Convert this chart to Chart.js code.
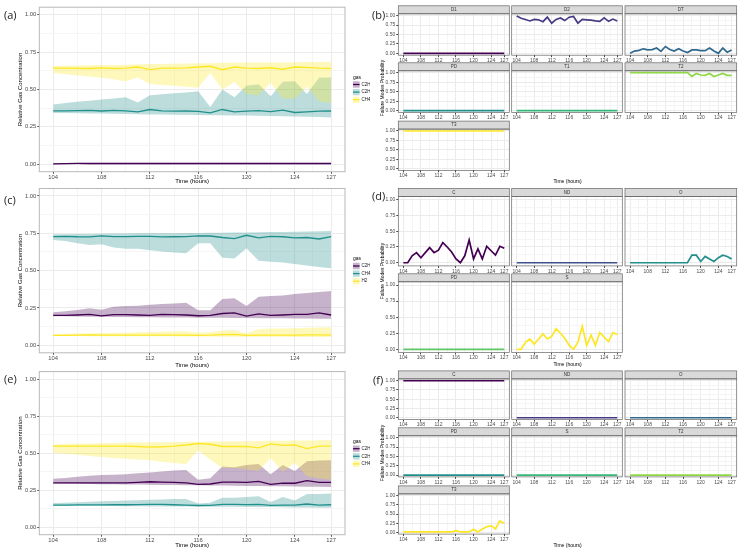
<!DOCTYPE html>
<html>
<head>
<meta charset="utf-8">
<script src="https://cdn.jsdelivr.net/npm/chart.js@4.4.1/dist/chart.umd.min.js"></script>
<style>
  html, body { margin: 0; padding: 0; background: #fff; }
  body { width: 741px; height: 551px; position: relative; overflow: hidden; }
  canvas { position: absolute; }
  .lab { position: absolute; font-family: "Open Sans", sans-serif; font-size: 11px; color: #222; line-height: 12px; }
  .ttl { position: absolute; font-family: "Liberation Sans", Arial, sans-serif; font-size: 5px; color: #000; white-space: nowrap; line-height: 6px; }
</style>
</head>
<body>
<script>
// ---- data ----
const hours = [104,105,106,107,108,109,110,111,112,113,114,115,
               116,117,118,119,120,121,122,123,124,125,126,127];
const xMajor = [104,108,112,116,120,124,127];
const xMinor = [106,110,114,118,122,125.5];
const yMajor = [0,0.25,0.5,0.75,1];
const yMinor = [0.125,0.375,0.625,0.875];

// (a) gases: C2H2, C2H4, CH4
const aC2H2   = [0.002,0.004,0.005,0.005,0.005,0.005,0.005,0.005,0.005,0.005,0.005,0.005,
                 0.005,0.005,0.005,0.005,0.005,0.005,0.005,0.005,0.005,0.005,0.005,0.005];
const aC2H2Lo = [0.000,0.000,0.000,0.000,0.000,0.000,0.000,0.000,0.000,0.000,0.000,0.000,
                 0.000,0.000,0.000,0.000,0.000,0.000,0.000,0.000,0.000,0.000,0.000,0.000];
const aC2H2Hi = [0.006,0.008,0.009,0.009,0.009,0.009,0.009,0.009,0.009,0.009,0.009,0.009,
                 0.009,0.009,0.009,0.009,0.009,0.009,0.009,0.009,0.009,0.009,0.009,0.009];
const aC2H4   = [0.357,0.357,0.358,0.360,0.356,0.360,0.357,0.350,0.366,0.357,0.355,0.356,
                 0.353,0.343,0.366,0.350,0.355,0.358,0.352,0.362,0.346,0.350,0.355,0.356];
const aC2H4Lo = [0.343,0.342,0.341,0.340,0.339,0.338,0.336,0.335,0.333,0.332,0.331,0.330,
                 0.329,0.328,0.327,0.326,0.325,0.324,0.322,0.321,0.319,0.317,0.315,0.313];
const aC2H4Hi = [0.400,0.410,0.418,0.425,0.432,0.440,0.448,0.412,0.462,0.468,0.474,0.480,
                 0.488,0.382,0.500,0.448,0.525,0.535,0.455,0.552,0.555,0.470,0.578,0.580];
const aCH4    = [0.643,0.643,0.641,0.640,0.644,0.640,0.642,0.650,0.632,0.643,0.643,0.644,
                 0.650,0.655,0.632,0.650,0.643,0.640,0.645,0.635,0.650,0.648,0.643,0.640];
const aCH4Lo  = [0.610,0.602,0.594,0.586,0.578,0.568,0.555,0.580,0.536,0.530,0.525,0.518,
                 0.512,0.610,0.500,0.550,0.470,0.460,0.545,0.440,0.440,0.520,0.420,0.410];
const aCH4Hi  = [0.656,0.658,0.660,0.661,0.663,0.664,0.666,0.668,0.670,0.671,0.672,0.673,
                 0.675,0.676,0.678,0.679,0.680,0.680,0.681,0.681,0.682,0.683,0.684,0.685];

// (c) gases: C2H6, CH4, H2
const cC2H6   = [0.200,0.200,0.203,0.207,0.197,0.205,0.205,0.203,0.200,0.207,0.205,0.203,
                 0.198,0.200,0.213,0.217,0.195,0.210,0.200,0.203,0.207,0.207,0.217,0.203];
const cC2H6Lo = [0.195,0.194,0.193,0.192,0.191,0.190,0.189,0.188,0.188,0.187,0.186,0.186,
                 0.185,0.185,0.184,0.183,0.183,0.182,0.181,0.181,0.180,0.179,0.178,0.178];
const cC2H6Hi = [0.221,0.228,0.236,0.248,0.238,0.258,0.263,0.265,0.272,0.276,0.280,0.285,
                 0.235,0.235,0.310,0.315,0.263,0.326,0.330,0.333,0.344,0.350,0.357,0.364];
const cCH4    = [0.728,0.730,0.727,0.726,0.733,0.728,0.728,0.730,0.730,0.726,0.727,0.728,
                 0.733,0.732,0.722,0.714,0.737,0.720,0.730,0.727,0.720,0.722,0.712,0.728];
const cCH4Lo  = [0.705,0.698,0.683,0.672,0.677,0.655,0.646,0.646,0.637,0.628,0.622,0.616,
                 0.683,0.683,0.587,0.582,0.650,0.567,0.560,0.555,0.545,0.535,0.525,0.516];
const cCH4Hi  = [0.743,0.744,0.745,0.746,0.747,0.748,0.749,0.750,0.750,0.751,0.751,0.752,
                 0.752,0.753,0.754,0.755,0.756,0.757,0.758,0.759,0.760,0.762,0.764,0.765];
const cH2     = [0.067,0.067,0.068,0.070,0.068,0.068,0.068,0.068,0.068,0.069,0.069,0.069,
                 0.067,0.068,0.072,0.073,0.067,0.068,0.068,0.069,0.069,0.070,0.070,0.068];
const cH2Lo   = [0.062,0.062,0.062,0.061,0.061,0.061,0.061,0.060,0.060,0.060,0.060,0.059,
                 0.059,0.059,0.058,0.058,0.058,0.057,0.057,0.057,0.056,0.056,0.055,0.055];
const cH2Hi   = [0.075,0.077,0.079,0.081,0.082,0.083,0.085,0.087,0.089,0.091,0.093,0.095,
                 0.085,0.087,0.100,0.103,0.080,0.110,0.112,0.113,0.115,0.117,0.119,0.121];

// (e) gases: C2H4, C2H6, CH4
const eC2H4   = [0.300,0.300,0.300,0.300,0.300,0.300,0.300,0.303,0.307,0.305,0.303,0.300,
                 0.290,0.292,0.305,0.305,0.303,0.310,0.290,0.298,0.297,0.315,0.303,0.303];
const eC2H4Lo = [0.295,0.294,0.293,0.292,0.291,0.290,0.289,0.288,0.287,0.286,0.285,0.284,
                 0.283,0.282,0.281,0.280,0.279,0.278,0.277,0.276,0.275,0.274,0.273,0.272];
const eC2H4Hi = [0.328,0.332,0.340,0.348,0.352,0.355,0.358,0.365,0.370,0.376,0.383,0.386,
                 0.320,0.330,0.410,0.405,0.420,0.427,0.357,0.420,0.380,0.445,0.450,0.452];
const eC2H6   = [0.150,0.150,0.151,0.151,0.151,0.152,0.152,0.153,0.155,0.154,0.152,0.150,
                 0.147,0.148,0.155,0.155,0.153,0.155,0.148,0.150,0.150,0.157,0.150,0.152];
const eC2H6Lo = [0.145,0.145,0.144,0.144,0.143,0.143,0.142,0.142,0.141,0.141,0.140,0.140,
                 0.139,0.139,0.138,0.138,0.137,0.137,0.136,0.135,0.134,0.133,0.132,0.131];
const eC2H6Hi = [0.164,0.166,0.169,0.172,0.175,0.178,0.180,0.183,0.186,0.188,0.191,0.190,
                 0.160,0.165,0.200,0.200,0.205,0.210,0.170,0.205,0.180,0.225,0.225,0.228];
const eCH4    = [0.548,0.548,0.548,0.548,0.548,0.548,0.547,0.545,0.540,0.543,0.548,0.555,
                 0.565,0.560,0.545,0.545,0.545,0.535,0.562,0.553,0.555,0.530,0.547,0.547];
const eCH4Lo  = [0.503,0.496,0.489,0.481,0.474,0.468,0.462,0.457,0.452,0.442,0.433,0.427,
                 0.520,0.455,0.400,0.400,0.390,0.382,0.465,0.375,0.436,0.345,0.330,0.320];
const eCH4Hi  = [0.558,0.561,0.563,0.565,0.567,0.569,0.571,0.572,0.573,0.574,0.575,0.576,
                 0.577,0.578,0.579,0.580,0.581,0.582,0.583,0.584,0.585,0.586,0.587,0.588];

// (b) failure modes, Duval triangle 1
const bD1 = [0,0,0,0,0,0,0,0,0,0,0,0, 0,0,0,0,0,0,0,0,0,0,0,0];
const bD2 = [0.99,0.93,0.90,0.86,0.90,0.89,0.84,0.96,0.80,0.90,0.94,0.87,
             0.96,0.98,0.80,0.90,0.89,0.88,0.86,0.85,0.94,0.85,0.91,0.86];
const bDT = [0.00,0.06,0.08,0.12,0.09,0.10,0.14,0.05,0.18,0.10,0.06,0.12,
             0.06,0.02,0.09,0.09,0.07,0.07,0.14,0.06,0.00,0.14,0.03,0.09];
const bPD = [0,0,0,0,0,0,0,0,0,0,0,0, 0,0,0,0,0,0,0,0,0,0,0,0];
const bT1 = [0,0,0,0,0,0,0,0,0,0,0,0, 0,0,0,0,0,0,0,0,0,0,0,0];
const bT2 = [1,1,1,1,1,1,1,1,1,1,1,1,
             1,1,0.90,0.98,0.94,0.93,0.98,0.90,0.94,0.98,0.93,0.93];
const bT3 = [1,1,1,1,1,1,1,1,1,1,1,1, 1,1,1,1,1,1,1,1,1,1,1,1];

// (d) failure modes, Duval triangle 4
const dC  = [0.00,0.00,0.11,0.16,0.08,0.16,0.24,0.16,0.20,0.32,0.25,0.17,
             0.06,0.00,0.11,0.36,0.06,0.22,0.06,0.26,0.19,0.12,0.26,0.23];
const dND = [0,0,0,0,0,0,0,0,0,0,0,0, 0,0,0,0,0,0,0,0,0,0,0,0];
const dO  = [0,0,0,0,0,0,0,0,0,0,0,0,
             0,0,0.12,0.12,0.02,0.10,0.06,0.02,0.08,0.12,0.10,0.06];
const dPD = [0,0,0,0,0,0,0,0,0,0,0,0, 0,0,0,0,0,0,0,0,0,0,0,0];
const dS  = [0.00,0.00,0.11,0.16,0.08,0.16,0.24,0.16,0.20,0.32,0.25,0.17,
             0.06,0.00,0.11,0.36,0.06,0.22,0.06,0.26,0.19,0.12,0.26,0.23];

// (f) failure modes, Duval triangle 5
const fC  = [1,1,1,1,1,1,1,1,1,1,1,1, 1,1,1,1,1,1,1,1,1,1,1,1];
const fND = [0,0,0,0,0,0,0,0,0,0,0,0, 0,0,0,0,0,0,0,0,0,0,0,0];
const fO  = [0,0,0,0,0,0,0,0,0,0,0,0, 0,0,0,0,0,0,0,0,0,0,0,0];
const fPD = [0,0,0,0,0,0,0,0,0,0,0,0, 0,0,0,0,0,0,0,0,0,0,0,0];
const fS  = [0,0,0,0,0,0,0,0,0,0,0,0, 0,0,0,0,0,0,0,0,0,0,0,0];
const fT2 = [0,0,0,0,0,0,0,0,0,0,0,0, 0,0,0,0,0,0,0,0,0,0,0,0];
const fT3 = [0.01,0.01,0.01,0.01,0.01,0.01,0.01,0.01,0.01,0.01,0.01,0.01,
             0.045,0.01,0.01,0.01,0.08,0.01,0.09,0.15,0.18,0.09,0.31,0.25];

// ---- styling ----
const FONT = '"Liberation Sans", Arial, sans-serif';
const V3 = ['#440154', '#21908C', '#FDE725'];
const V5 = ['#440154', '#3B528B', '#21908C', '#5DC863', '#FDE725'];
const V7 = ['#440154', '#443A83', '#31688E', '#21908C', '#35B779', '#8FD744', '#FDE725'];
const GRID_MAJ = '#ebebeb';
const GRID_MIN = '#f5f5f5';

function rgba(hex, a) {
  const n = parseInt(hex.slice(1), 16);
  return `rgba(${n >> 16},${(n >> 8) & 255},${n & 255},${a})`;
}
function pts(arr) { return hours.map((h, i) => ({ x: h, y: arr[i] })); }

function makeCanvas(x, y, w, h) {
  const c = document.createElement('canvas');
  c.width = w; c.height = h;
  c.style.left = x + 'px'; c.style.top = y + 'px';
  c.style.width = w + 'px'; c.style.height = h + 'px';
  document.body.appendChild(c);
  return c;
}
function addText(cls, text, x, y, extra) {
  const d = document.createElement('div');
  d.className = cls; d.textContent = text;
  d.style.left = x + 'px'; d.style.top = y + 'px';
  if (extra) Object.assign(d.style, extra);
  document.body.appendChild(d);
}

function xAxis(o) {
  const vals = xMajor.concat(xMinor).sort((a, b) => a - b);
  return {
    type: 'linear', position: 'bottom', min: 102.85, max: 128.15,
    afterBuildTicks: s => { s.ticks = vals.map(v => ({ value: v })); },
    afterFit: s => { s.height = o.h; s.paddingLeft = 0; s.paddingRight = 0; },
    ticks: { autoSkip: false, maxRotation: 0, minRotation: 0, padding: 0.5, color: '#4d4d4d',
             font: { family: FONT, size: o.size },
             callback: v => xMajor.includes(v) ? String(v) : '' },
    grid: { color: c => (c.tick && xMajor.includes(c.tick.value)) ? GRID_MAJ : GRID_MIN,
            lineWidth: 1, tickLength: 2,
            tickColor: c => (c.tick && xMajor.includes(c.tick.value)) ? '#444' : 'rgba(0,0,0,0)' },
    border: { display: false },
    title: o.title ? { display: true, text: o.title, color: '#000',
                       font: { family: FONT, size: 6 }, padding: { top: 0, bottom: 0 } }
                   : { display: false }
  };
}
function yAxis(o) {
  const vals = yMajor.concat(yMinor).sort((a, b) => a - b);
  return {
    type: 'linear', position: 'left', min: -0.05, max: 1.05,
    afterBuildTicks: s => { s.ticks = vals.map(v => ({ value: v })); },
    afterFit: s => { s.width = o.w; s.paddingTop = 0; s.paddingBottom = 0; },
    ticks: { display: o.labels, padding: 1, color: '#4d4d4d',
             font: { family: FONT, size: o.size },
             callback: v => yMajor.includes(v) ? v.toFixed(2) : '' },
    grid: { color: c => (c.tick && yMajor.includes(c.tick.value)) ? GRID_MAJ : GRID_MIN,
            lineWidth: 1, tickLength: 2, drawTicks: o.labels,
            tickColor: c => (c.tick && yMajor.includes(c.tick.value)) ? '#444' : 'rgba(0,0,0,0)' },
    border: { display: false },
    title: o.title ? { display: true, text: o.title, color: '#000',
                       font: { family: FONT, size: 6 }, padding: { top: 0, bottom: 0 } }
                   : { display: false }
  };
}

// panel frame, optional facet strip, optional gas legend
function decor(o) {
  return {
    id: 'decor',
    afterDraw(chart) {
      const ctx = chart.ctx, a = chart.chartArea;
      ctx.save();
      if (o.strip) {
        const h = 8;
        ctx.fillStyle = '#d9d9d9';
        ctx.fillRect(a.left, a.top - h, a.right - a.left, h);
        ctx.strokeStyle = o.border; ctx.lineWidth = o.bw;
        ctx.strokeRect(a.left, a.top - h, a.right - a.left, h);
        ctx.fillStyle = '#333';
        ctx.font = `4.5px ${FONT}`;
        ctx.textAlign = 'center'; ctx.textBaseline = 'middle';
        ctx.fillText(o.strip, (a.left + a.right) / 2, a.top - h / 2);
      }
      ctx.strokeStyle = o.border; ctx.lineWidth = o.bw;
      ctx.strokeRect(a.left, a.top, a.right - a.left, a.bottom - a.top);
      if (o.legend) {
        const lx = 353, ly = o.legend.y;
        ctx.textAlign = 'left'; ctx.textBaseline = 'middle';
        ctx.fillStyle = '#000';
        ctx.font = `5px ${FONT}`;
        ctx.fillText('gas', lx, ly);
        ctx.font = `4.5px ${FONT}`;
        o.legend.items.forEach((it, i) => {
          const cy = ly + 7 + i * 7.6;
          ctx.fillStyle = rgba(it.color, 0.3);
          ctx.fillRect(lx, cy - 3.2, 6.6, 6.4);
          ctx.strokeStyle = it.color; ctx.lineWidth = 1.3;
          ctx.beginPath(); ctx.moveTo(lx, cy); ctx.lineTo(lx + 6.6, cy); ctx.stroke();
          ctx.fillStyle = '#1a1a1a';
          ctx.fillText(it.name, lx + 8.6, cy);
        });
      }
      ctx.restore();
    }
  };
}

// ---- left panels: ribbons + mean lines ----
function gasPanel(p) {
  const W = 370, L = 39.3, R = 345, padLeft = 16.8;
  const cv = makeCanvas(0, p.top, W, p.height);
  const bottom = p.top + p.height;
  const datasets = [];
  // lines first (index 0 is drawn on top)
  for (let g = p.gases.length - 1; g >= 0; g--) {
    const gs = p.gases[g];
    datasets.push({ data: pts(gs.mean), borderColor: gs.color, borderWidth: 1.3,
                    pointRadius: 0, fill: false, tension: 0 });
  }
  for (let g = p.gases.length - 1; g >= 0; g--) {
    const gs = p.gases[g];
    const hiIdx = datasets.length;
    datasets.push({ data: pts(gs.hi), borderWidth: 0, borderColor: 'rgba(0,0,0,0)',
                    pointRadius: 0, tension: 0, fill: hiIdx + 1,
                    backgroundColor: rgba(gs.color, 0.3) });
    datasets.push({ data: pts(gs.lo), borderWidth: 0, borderColor: 'rgba(0,0,0,0)',
                    pointRadius: 0, tension: 0, fill: false });
  }
  new Chart(cv, {
    type: 'line',
    data: { datasets },
    options: {
      responsive: false, animation: false, devicePixelRatio: 1,
      layout: { autoPadding: false,
                padding: { left: padLeft, right: W - R, top: p.areaTop - p.top, bottom: 0 } },
      plugins: { legend: { display: false }, tooltip: { enabled: false } },
      scales: {
        x: xAxis({ h: bottom - p.areaBottom, size: 5.8, title: 'Time (hours)' }),
        y: yAxis({ w: L - padLeft, size: 5.8, labels: true, title: 'Relative Gas Concentration' })
      }
    },
    plugins: [decor({ border: '#b8b8b8', bw: 1,
                      legend: { y: p.legendY - p.top,
                                items: p.gases.map(g => ({ name: g.name, color: g.color })) } })]
  });
}

gasPanel({ top: 0, height: 185, areaTop: 7.2, areaBottom: 171.7, legendY: 77.5, gases: [
  { name: 'C2H2', color: V3[0], mean: aC2H2, lo: aC2H2Lo, hi: aC2H2Hi },
  { name: 'C2H4', color: V3[1], mean: aC2H4, lo: aC2H4Lo, hi: aC2H4Hi },
  { name: 'CH4',  color: V3[2], mean: aCH4,  lo: aCH4Lo,  hi: aCH4Hi } ] });
gasPanel({ top: 185, height: 184, areaTop: 188.5, areaBottom: 352.8, legendY: 259, gases: [
  { name: 'C2H6', color: V3[0], mean: cC2H6, lo: cC2H6Lo, hi: cC2H6Hi },
  { name: 'CH4',  color: V3[1], mean: cCH4,  lo: cCH4Lo,  hi: cCH4Hi },
  { name: 'H2',   color: V3[2], mean: cH2,   lo: cH2Lo,   hi: cH2Hi } ] });
gasPanel({ top: 368, height: 181, areaTop: 371.6, areaBottom: 534.7, legendY: 441.7, gases: [
  { name: 'C2H4', color: V3[0], mean: eC2H4, lo: eC2H4Lo, hi: eC2H4Hi },
  { name: 'C2H6', color: V3[1], mean: eC2H6, lo: eC2H6Lo, hi: eC2H6Hi },
  { name: 'CH4',  color: V3[2], mean: eCH4,  lo: eCH4Lo,  hi: eCH4Hi } ] });

// ---- right panels: facets ----
const colL = [398.3, 511.7, 625];
const colR = [509.3, 622.3, 736.7];

function facet(f, col, rowTop, rowBottom) {
  const L = colL[col], R = colR[col], T = rowTop, B = rowBottom;
  const yW = col === 0 ? 17 : 0;
  const cx = Math.floor(L - yW - 3);
  const cw = Math.ceil(R + 6 - cx);
  const cy = Math.floor(T - 9);
  const ch = Math.ceil(B + 10 - cy);
  const cv = makeCanvas(cx, cy, cw, ch);
  new Chart(cv, {
    type: 'line',
    data: { datasets: [{ data: pts(f.data), borderColor: f.color, borderWidth: 1.7,
                         pointRadius: 0, fill: false, tension: 0 }] },
    options: {
      responsive: false, animation: false, devicePixelRatio: 1,
      layout: { autoPadding: false,
                padding: { left: L - yW - cx, right: cx + cw - R, top: T - cy, bottom: 0 } },
      plugins: { legend: { display: false }, tooltip: { enabled: false } },
      scales: {
        x: xAxis({ h: cy + ch - B, size: 5 }),
        y: yAxis({ w: yW, size: 5, labels: col === 0 })
      }
    },
    plugins: [decor({ border: '#666', bw: 0.7, strip: f.name })]
  });
}

function facetGrid(list, rows, titleY) {
  list.forEach((f, i) => {
    const r = Math.floor(i / 3), c = i % 3;
    facet(f, c, rows[r][0], rows[r][1]);
  });
  const top = rows[0][0] - 8, bot = rows[rows.length - 1][1];
  addText('ttl', 'Failure Modes Probability', 381.7, (top + bot) / 2,
          { transform: 'translate(-50%,-50%) rotate(-90deg)' });
  addText('ttl', 'Time (hours)', 567.5, titleY, { transform: 'translate(-50%,-50%)' });
}

facetGrid([
  { name: 'D1', data: bD1, color: V7[0] }, { name: 'D2', data: bD2, color: V7[1] },
  { name: 'DT', data: bDT, color: V7[2] }, { name: 'PD', data: bPD, color: V7[3] },
  { name: 'T1', data: bT1, color: V7[4] }, { name: 'T2', data: bT2, color: V7[5] },
  { name: 'T3', data: bT3, color: V7[6] }
], [[13.8, 55.2], [70.8, 112.6], [129.1, 170.4]], 181);

facetGrid([
  { name: 'C', data: dC, color: V5[0] }, { name: 'ND', data: dND, color: V5[1] },
  { name: 'O', data: dO, color: V5[2] }, { name: 'PD', data: dPD, color: V5[3] },
  { name: 'S', data: dS, color: V5[4] }
], [[196.5, 265.9], [281.8, 352.5]], 364);

facetGrid([
  { name: 'C', data: fC, color: V7[0] }, { name: 'ND', data: fND, color: V7[1] },
  { name: 'O', data: fO, color: V7[2] }, { name: 'PD', data: fPD, color: V7[3] },
  { name: 'S', data: fS, color: V7[4] }, { name: 'T2', data: fT2, color: V7[5] },
  { name: 'T3', data: fT3, color: V7[6] }
], [[378.9, 419.6], [435.8, 476.9], [493.9, 534.1]], 545);

// panel labels
addText('lab', '(a)', 4, 9);
addText('lab', '(c)', 4, 194);
addText('lab', '(e)', 4, 373);
addText('lab', '(b)', 372, 9);
addText('lab', '(d)', 372, 190);
addText('lab', '(f)', 373, 374);
</script>
</body>
</html>
